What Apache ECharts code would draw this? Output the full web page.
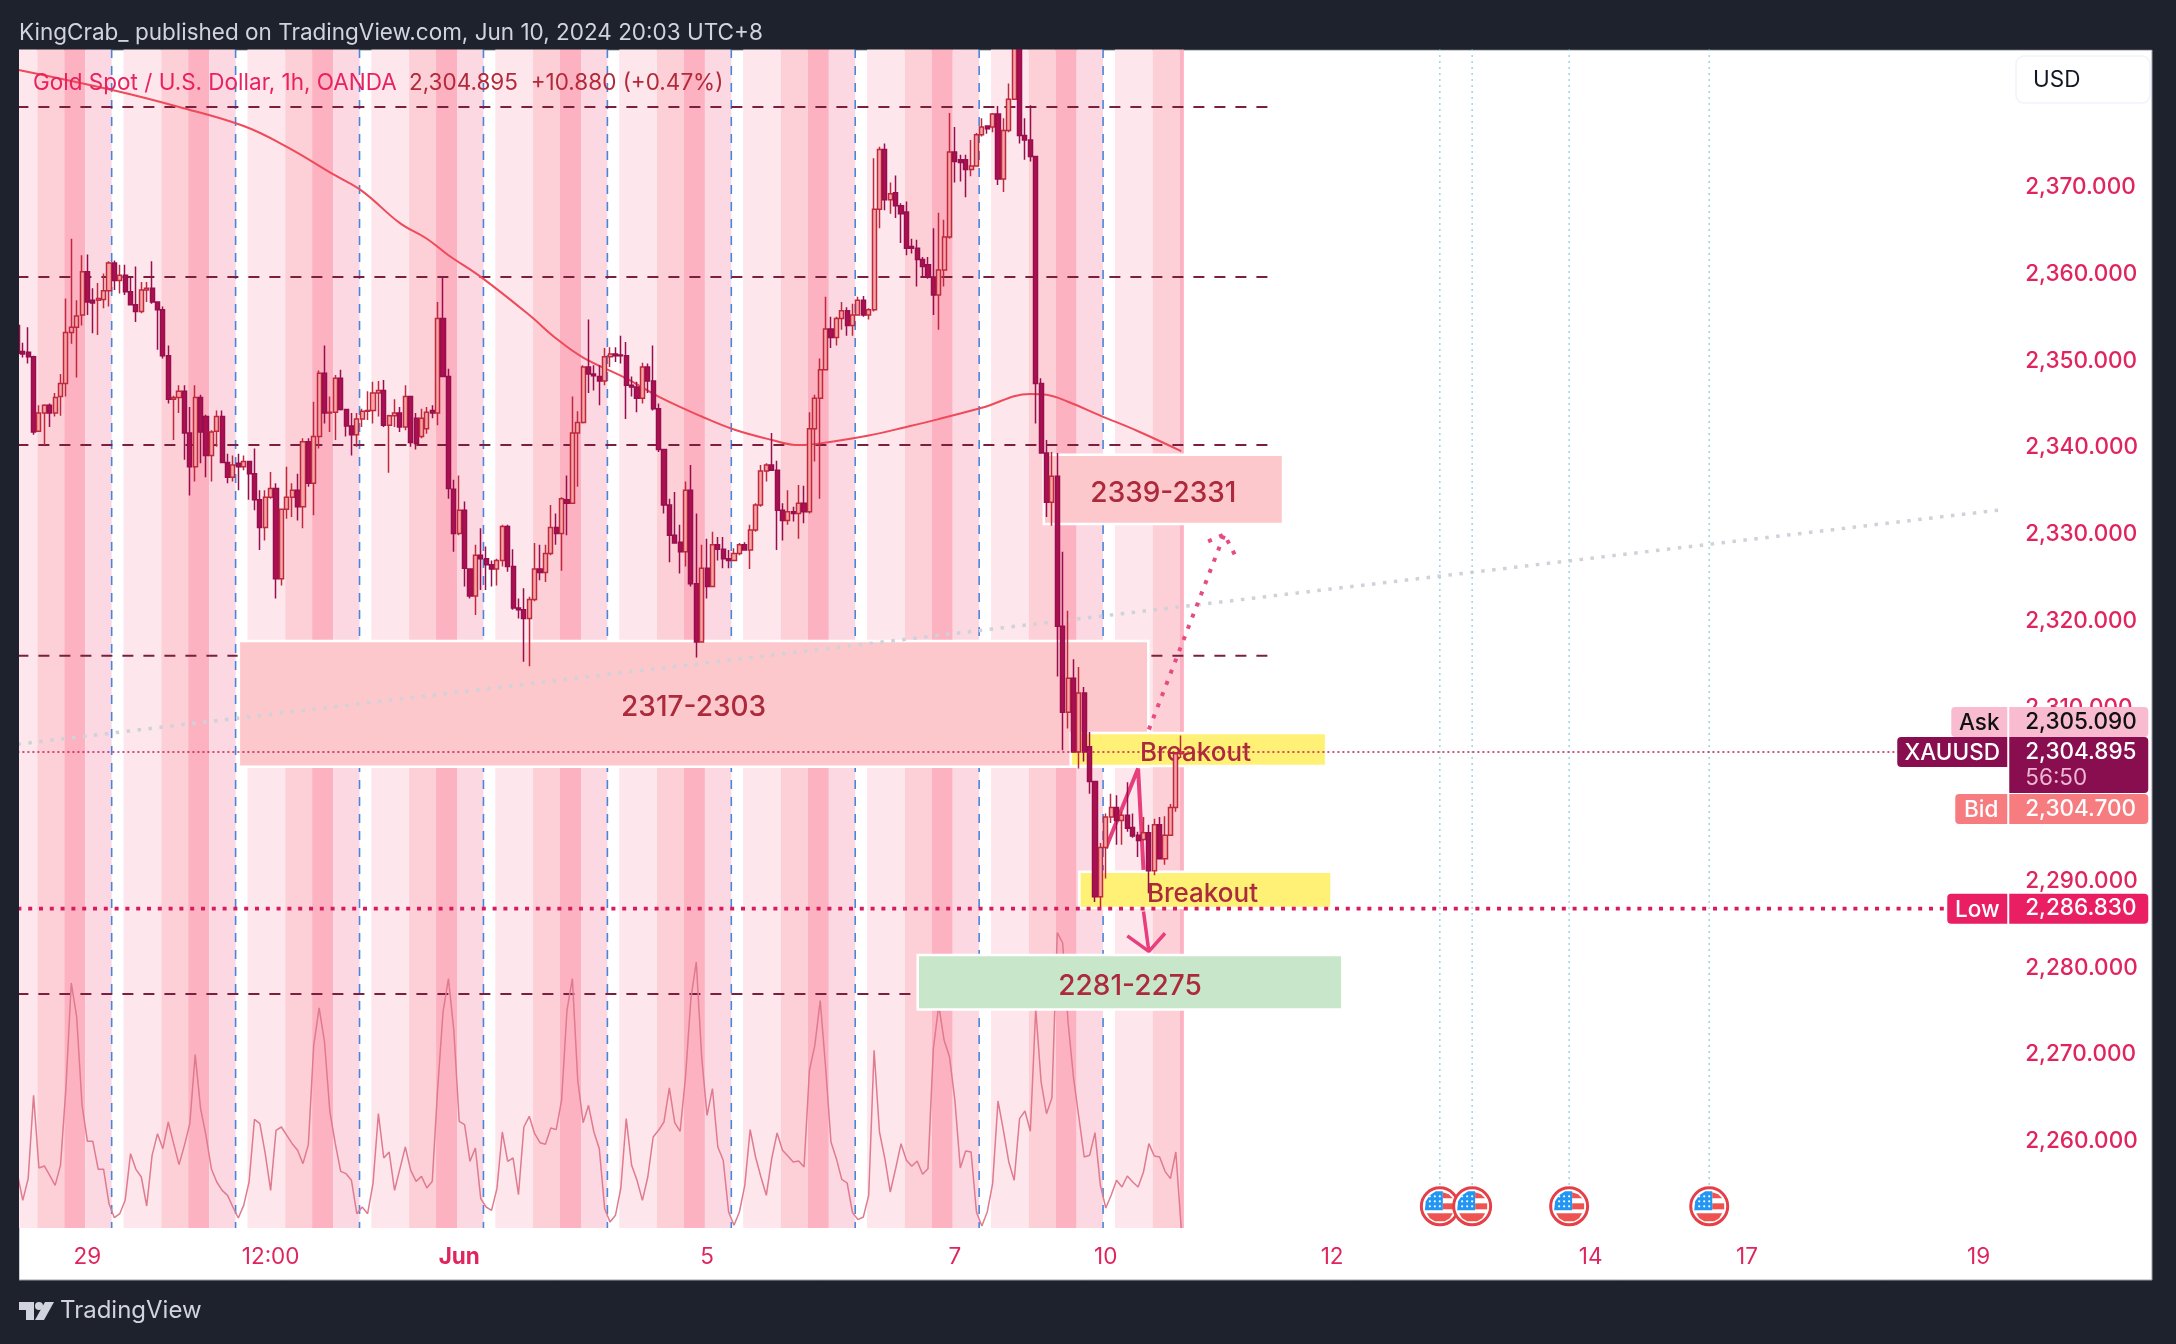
<!DOCTYPE html>
<html>
<head>
<meta charset="utf-8">
<style>html,body{margin:0;padding:0;background:#1e222d}#c{width:2176px;height:1344px}</style>
<script src="https://cdn.jsdelivr.net/npm/echarts@6/dist/echarts.min.js"></script>
</head>
<body>
<div id="c"></div>
<script>
const opens=[2354.1,2351.1,2351,2350.5,2341.9,2344,2344.9,2344,2345.9,2347.4,
2353.3,2353.9,2355.3,2360.3,2357,2357,2357.1,2358.1,2361.3,2359.3,
2359.9,2358,2356.5,2355.7,2358.2,2358.4,2356.8,2355.9,2350.6,2345.6,
2345.8,2346.5,2341.7,2337.8,2345.8,2343.6,2339.1,2341.9,2343.6,2338.3,
2336.6,2338.2,2337.8,2338.4,2337,2334,2330.8,2334.3,2335.3,2324.9,
2332.9,2334.3,2335.1,2333.2,2340.7,2335.9,2341.3,2348.6,2344,2344.1,
2348,2344.4,2342.5,2341.5,2343.3,2344.2,2344.3,2346.3,2346.6,2342.6,
2343.7,2344,2342.4,2345.9,2343.4,2341.3,2342.2,2344.3,2344,2354.9,
2348.2,2335.2,2330.1,2332.8,2326,2322.9,2327.6,2327.2,2326.5,2326,
2327,2330.9,2326.3,2321.5,2321.3,2320.3,2322.5,2326,2325.6,2327.8,
2330.8,2330.1,2334,2333.6,2341.7,2342.9,2349.3,2348.5,2348.2,2347.7,
2350.5,2350.8,2350.7,2350.6,2347.2,2347,2345.7,2349.3,2347.7,2344.5,
2339.8,2333.4,2329.9,2329.1,2328,2335.1,2324.3,2317.6,2326.1,2324,
2328.8,2328.3,2327.2,2327,2327.8,2328.8,2328.2,2330.5,2333.4,2337.3,
2338,2337.4,2332.8,2331.6,2332.6,2332.4,2333.6,2332.6,2342.2,2345.7,
2349,2353.7,2352.7,2354.9,2355.8,2354.1,2355.3,2357,2355.3,2355.9,
2367.5,2374.4,2368.6,2369.4,2367.9,2367.2,2363.2,2363,2361.7,2361.1,
2359.7,2357.6,2360.5,2364.3,2374.1,2373.2,2373.2,2372.1,2372.5,2376.1,
2377.1,2377,2378.5,2371,2376.6,2380.2,2387,2376,2375.5,2373.6,
2347.4,2339.4,2333.7,2336.7,2319.4,2309.5,2313.4,2304.9,2311.7,2305.5,
2301.5,2288.2,2293.9,2297.4,2298.5,2297,2297.6,2296.2,2295.3,2294.8,
2295.6,2291.2,2296.5,2292.6,2295.3,2298.5,2304.7];
const closes=[2350.9,2350.8,2350.5,2341.8,2344,2344.9,2344,2345.8,2347.4,2353.3,
2353.9,2355.2,2360.3,2356.8,2356.7,2357.2,2358.1,2361.3,2359.3,2359.9,
2358,2356.5,2355.7,2358.2,2358.4,2356.8,2355.9,2350.6,2345.6,2345.8,
2346.5,2341.7,2337.8,2345.8,2341.8,2339.1,2341.8,2343.6,2338.3,2336.6,
2338,2337.8,2338.4,2337,2334,2330.8,2334.3,2335.3,2324.9,2332.9,
2334.3,2335.1,2333.2,2340.7,2335.9,2341.3,2348.6,2344,2344.1,2348,
2344.4,2342.5,2341.5,2343.3,2344.2,2344.3,2346.3,2346.6,2342.6,2343.7,
2344,2342.4,2345.9,2340.6,2340.5,2343.4,2344.1,2344,2354.9,2348.2,
2335.3,2330.1,2332.8,2326.1,2322.9,2327.6,2327.2,2326.5,2326,2327,
2330.9,2326.3,2321.5,2321.3,2320.3,2322.5,2326,2325.6,2327.8,2330.8,
2330.1,2334.1,2333.6,2341.7,2342.9,2349.3,2348.5,2348.3,2347.7,2350.5,
2350.8,2350.6,2350.6,2347.2,2347,2345.7,2349.3,2347.7,2344.5,2339.8,
2333.4,2329.9,2329,2328,2335.1,2324.3,2317.6,2326.1,2324,2328.8,
2328.3,2327.2,2327,2327.8,2328.8,2328.2,2330.5,2333.4,2337.3,2338,
2337.4,2332.8,2331.6,2332.6,2332.4,2333.6,2332.6,2342.2,2345.7,2349,
2353.7,2352.7,2354.9,2355.8,2354.1,2355.3,2357,2355.3,2355.9,2367.5,
2374.4,2368.6,2369.3,2367.9,2367,2363,2363,2361.7,2360.9,2359.7,
2357.6,2360.5,2364.3,2374.1,2373,2372.9,2372.1,2372.5,2376.1,2377,
2376.8,2378.5,2371,2376.6,2380.2,2387,2376,2375.5,2373.6,2347.4,
2339.4,2333.7,2336.7,2319.4,2309.5,2313.4,2304.9,2311.7,2304.9,2301.5,
2288.2,2293.9,2297.4,2298.5,2297,2297.6,2296.1,2295.2,2294.7,2295.6,
2291.2,2296.5,2292.6,2295.3,2298.5,2304.7,2304.895];
const highs=[2354.5,2352.1,2353.9,2350.6,2344.9,2345,2345.1,2346.3,2348.5,2357.2,
2364.1,2357,2362.2,2362.3,2358.4,2359,2360.1,2361.5,2361.6,2361.1,
2361.1,2359.7,2360.9,2359.1,2359.1,2361.5,2356.8,2356.3,2351.8,2346,
2347.2,2347.2,2344.7,2347.2,2346.1,2343.8,2342,2344.3,2344.3,2339.3,
2339.1,2339.3,2339.1,2338.4,2339.9,2335.1,2335.1,2337.2,2335.9,2333,
2337.8,2335.9,2337,2341.1,2341.1,2345.3,2348.9,2351.8,2345.9,2348.4,
2349,2344.5,2344,2344,2344.5,2346.5,2347.6,2347.7,2347.8,2343.8,
2345.6,2344.7,2347.2,2345.9,2344,2344.5,2344.7,2344.9,2356.8,2359.7,
2349.1,2336.3,2336.8,2333.8,2326.1,2328.8,2330.7,2328.6,2327,2327.2,
2331.1,2331.1,2328.3,2322.6,2323.8,2322.8,2329,2328.8,2328.8,2333.4,
2332.4,2334.3,2336.8,2345.9,2344.2,2349.5,2354.8,2349.5,2349.5,2351.5,
2351.6,2351.6,2352.9,2352.2,2348.2,2347.6,2349.8,2349.7,2351.8,2345.1,
2339.8,2334.1,2334.9,2331.1,2336.1,2338,2332.4,2328.8,2329.5,2330.3,
2329.7,2329.7,2328.2,2328.4,2329,2329.1,2331.1,2333.6,2338,2338.2,
2341.7,2338.5,2333.6,2335.1,2333.2,2335.7,2335.6,2344.1,2346.1,2350.3,
2357.4,2355.1,2355.1,2356.8,2356.2,2356.6,2357.4,2357.5,2356.1,2373.4,
2374.7,2375.1,2370.6,2371.4,2368.2,2368.4,2364.1,2364,2362,2362,
2365.3,2367.1,2366.3,2378.6,2377,2373.8,2373.8,2375.5,2376.3,2378,
2377.2,2378.6,2379.4,2378,2382,2387.8,2387.8,2378,2379.5,2373.6,
2348,2340.9,2339.5,2339.4,2328,2321.2,2315.6,2314.7,2312.4,2307.2,
2301.5,2294.4,2297.8,2300.1,2299.9,2298,2301.4,2297.8,2295.7,2297.4,
2296.5,2297.2,2297.4,2297.5,2298.9,2304.9,2306.8];
const lows=[2350.5,2350.4,2349.7,2341.5,2341.8,2340.3,2342.4,2343.6,2343.7,2345.9,
2352,2348.1,2354.1,2355.3,2353.2,2353,2356.1,2356.3,2358.2,2357.8,
2357.6,2356.5,2354.5,2355.5,2356.8,2356.6,2351.3,2350.3,2345.1,2340.9,
2344,2338.6,2334.5,2336.1,2338.2,2336.6,2336.1,2340.1,2338.2,2335.9,
2336.1,2335.1,2337.4,2334,2332.8,2328.2,2329.3,2334.1,2322.6,2324.1,
2331.8,2332,2331.6,2330.7,2335.5,2332.2,2339.9,2342.8,2341.8,2340.9,
2344.3,2341.3,2339.1,2340.1,2342.4,2343.2,2342.8,2343.6,2342.4,2337.1,
2342.4,2341.8,2342,2340.1,2339.8,2341.1,2341.6,2343.4,2342.6,2348.2,
2334.1,2328,2329.9,2324,2322.6,2320.7,2323.6,2323.6,2324,2324.1,
2326.3,2325.7,2321.3,2320.3,2315.3,2314.8,2322.3,2324.7,2324.5,2327.6,
2328.8,2325.8,2329.9,2333.5,2335.5,2342.8,2346.3,2346.6,2344.9,2347.2,
2349.3,2349.9,2349.7,2343.3,2345.9,2344.1,2345.1,2346.3,2344.3,2339.5,
2332.4,2326.8,2329,2325.5,2326.3,2324,2315.8,2317.6,2322.6,2324,
2327,2326.1,2326.1,2326.9,2327.6,2328.2,2326,2330.3,2333.2,2336.1,
2337.4,2328.2,2329.3,2331.1,2331.5,2329.5,2331.3,2332.4,2338.4,2334.1,
2349,2351.5,2351.8,2353.6,2352.9,2352.9,2355.3,2355.1,2354.8,2355.7,
2365.3,2367.4,2367,2366.5,2363.6,2362.2,2362.4,2358.6,2359.7,2359.5,
2355.3,2353.6,2358.6,2364.1,2370.6,2370.7,2368.9,2371.3,2372.5,2375.9,
2376.2,2376.4,2370.3,2369.5,2376.4,2380.1,2375.1,2373.2,2373,2342.8,
2339.3,2332,2331,2313.6,2305.1,2307.6,2304.9,2303,2303.8,2300.1,
2287.6,2286.83,2290.3,2296.7,2294.2,2294.2,2295.7,2295,2292.8,2294.7,
2288.6,2290.7,2292.5,2291.9,2295.3,2298,2304.2];
const activity=[163,83,148,398,180,186,158,128,188,418,735,633,368,260,260,176,176,73,31,43,83,223,176,153,66,218,283,238,318,253,190,248,313,520,358,278,178,138,113,98,63,30,68,138,326,313,223,113,293,303,278,253,233,193,250,548,660,558,348,253,170,163,143,43,63,43,133,343,210,228,113,178,243,173,140,155,120,140,418,648,748,593,320,310,200,240,88,63,53,118,288,200,210,100,303,335,283,256,251,300,295,383,653,748,443,316,368,288,238,
58,18,38,120,328,188,143,83,153,273,293,318,420,316,290,453,688,798,513,338,418,243,203,48,8,48,128,295,213,153,98,208,285,233,216,198,201,183,473,548,682,483,258,208,146,135,46,25,33,98,533,288,208,108,178,253,203,185,201,161,178,538,668,563,513,383,180,231,228,48,6,48,133,381,293,198,143,328,351,290,658,438,343,390,886,855,618,453,333,213,218,286,128,60,98,143,123,156,138,123,168,253,216,213,170,148,228,0];
const maBars=[0,18,30,42,50,59,64,71,76,80,86,95,100,105,113,119,127,133,140,145,149,158,165,171,179,188,191,195,201,208,216];
const maValues=[2383.6,2381.2,2379.3,2377.1,2374.7,2371.4,2369.6,2365.9,2364.1,2362.2,2359.7,2355.3,2352.6,2350.4,2348,2345.9,2343.6,2342.1,2340.9,2340.3,2340.5,2341.4,2342.4,2343.3,2344.6,2346.2,2346.1,2345.3,2343.7,2341.9,2339.6];
const sessionStarts=[-5,18,41,64,87,110,133,156,179,202];
const sessionEdges=[0,2.2,9.2,14.2,18.1,23];
const sessionFills=[null,'#fde6ec','#fdd0d7','#fdb2c2','#fbd8e2'];
const lastBarEdge=217;
const levelPrices=[2379.3,2359.7,2340.3,2316,2277];
const levelEndBar=232;
const lastPrice=2304.895, askPrice=2305.09, bidPrice=2304.7, lowPrice=2286.83;
const trendBars=[0,369], trendPrices=[2305.8,2332.9];
const upPathBars=[210,224], upPathPrices=[2307.5,2330];
const upHeadBars=[221,224,226], upHeadPrices=[2329.2,2330,2327.6];
const swingBars=[202,208,209], swingPrices=[2293.8,2303,2291.3];
const downBars=[209,210], downPrices=[2286.5,2281.9];
const downHeadBars=[206,210,213], downHeadPrices=[2283.7,2281.9,2284];
const boxStartBars=[41.6,191,167.6,196,197.6];
const boxEndBars=[210.4,235.4,246.4,243.4,244.4];
const boxTops=[2317.7,2339.2,2281.5,2307.1,2291.1];
const boxBottoms=[2303.2,2331.2,2275.2,2303.3,2286.9];
const boxLabels=['2317-2303','2339-2331','2281-2275','Breakout','Breakout'];
const boxFills=['#fdc8cc','#fdc8cc','#c8e6c9','#fff176','#fff176'];
const eventBars=[264,270,288,314];
const eventPrice=2252.5;
const axisTicks={13:'29',47:'12:00',82:'Jun',128:'5',174:'7',202:'10',244:'12',292:'14',321:'17',364:'19'};
const hiddenPriceTicks=[2250,2300,2380];
const barCount=370;
const categories=Array.from({length:barCount},(_,i)=>String(i));

const FONT='Inter, "Noto Sans", sans-serif';
const bandW=5.388, gridLeft=14.7;
const chart=echarts.init(document.getElementById('c'),null,{renderer:'canvas'});

const candleData=opens.map((o,i)=>[o,closes[i],lows[i],highs[i]]);
const toPairs=(xs,ys)=>xs.map((x,i)=>[x,ys[i]]);
const lineSeries=(xs,ys,style,z)=>({type:'line',data:toPairs(xs,ys),showSymbol:false,silent:true,z,lineStyle:style,animation:false});

function edgeX(api,k){
  const base=Math.floor(k);
  const w=api.size([1,0])[0];
  return api.coord([base,2300])[0]-w/2+(k-base)*w;
}
const bandRows=[];
sessionStarts.forEach(s=>{
  for(let j=1;j<sessionEdges.length-1;j++){
    bandRows.push([s+sessionEdges[j],Math.min(s+sessionEdges[j+1],lastBarEdge),j]);
  }
});
const bandSeries={type:'custom',z:1,silent:true,clip:true,data:bandRows.filter(r=>r[0]<lastBarEdge).map(r=>[Math.floor(r[0]),r[1],r[2],r[0]]),
  renderItem(p,api){
    const start=api.value(3), end=api.value(1), kind=api.value(2);
    const a=edgeX(api,start), b=edgeX(api,end);
    const top=p.coordSys.y, h=p.coordSys.height;
    return {type:'rect',shape:{x:a,y:top,width:b-a,height:h},style:{fill:sessionFills[kind]}};
  }};
const sessionLines={type:'custom',z:2,silent:true,clip:true,data:sessionStarts.map(s=>[s]),
  renderItem(p,api){
    const x=edgeX(api,api.value(0));
    return {type:'line',shape:{x1:x,y1:p.coordSys.y,x2:x,y2:p.coordSys.y+p.coordSys.height},style:{stroke:'#4a86d8',lineWidth:1.6,lineDash:[9,8]}};
  }};
const boxSeries={type:'custom',z:6,silent:true,clip:false,data:boxStartBars.map((s,i)=>[Math.floor(s),Math.floor(boxEndBars[i]),boxTops[i],boxBottoms[i]]),
  renderItem(p,api){
    const i=p.dataIndex;
    const a=edgeX(api,boxStartBars[i]), b=edgeX(api,boxEndBars[i]);
    const y1=api.coord([api.value(0),api.value(2)])[1], y2=api.coord([api.value(0),api.value(3)])[1];
    return {type:'group',children:[
      {type:'rect',shape:{x:a,y:y1,width:b-a,height:y2-y1},style:{fill:boxFills[i],stroke:'#ffffff',lineWidth:2.5}},
      {type:'text',z2:200,style:{text:boxLabels[i],x:(a+b)/2-(i>2?3:0),y:(y1+y2)/2+4,fill:'#ab2a3c',font:'500 '+(i>2?26:28)+'px '+FONT,textAlign:'center',textVerticalAlign:'middle',verticalAlign:'middle'}}
    ]};
  }};
const flagSeries={type:'custom',z:8,silent:true,clip:false,data:eventBars.map(k=>[k,eventPrice]),
  renderItem(p,api){
    const c=api.coord([api.value(0),api.value(1)]);
    const x=c[0],y=c[1];
    const kids=[
      {type:'line',shape:{x1:x,y1:p.coordSys.y,x2:x,y2:y-20},style:{stroke:'#9ed6e4',lineWidth:1.5,lineDash:[2,4]}},
      {type:'circle',shape:{cx:x,cy:y,r:18.5},style:{fill:'#fff',stroke:'#e53f47',lineWidth:3}},
      {type:'polygon',shape:{points:[[x+3,y-14],[x+9,y-12],[x+13,y-8],[x+3,y-8]]},style:{fill:'#ef5350'}},
      {type:'rect',shape:{x:x+3,y:y-3,width:12,height:6},style:{fill:'#ef5350'}},
      {type:'polygon',shape:{points:[[x-13,y+7],[x+13,y+7],[x+10,y+12],[x+5,y+15],[x-5,y+15],[x-10,y+12]]},style:{fill:'#ef5350'}},
      {type:'polygon',shape:{points:[[x+3,y-15],[x+3,y+4],[x-15,y+4],[x-14,y-5],[x-10,y-11],[x-4,y-15]]},style:{fill:'#2196f3'}}
    ];
    [-10,-5,0].forEach(dx=>[-10,-5,0].forEach(dy=>kids.push({type:'circle',shape:{cx:x+dx,cy:y+dy,r:1.1},style:{fill:'#fff'}})));
    return {type:'group',children:kids};
  }};
const tagRows=[
  ['Ask','2,305.090',null,'#f8bbd0','#111111',-45,30,lastPrice],
  ['XAUUSD','2,304.895','56:50','#880e4f','#ffffff',-15,30,lastPrice],
  ['Bid','2,304.700',null,'#f77c80','#ffffff',42,30,lastPrice],
  ['Low','2,286.830',null,'#e91e63','#ffffff',-15,30,lowPrice]
];
const tagW={Ask:56,XAUUSD:110,Bid:52,Low:60};
const tagSeries={type:'custom',z:30,silent:true,clip:false,data:tagRows.map(r=>[barCount-1,r[7]]),
  renderItem(p,api){
    const r=tagRows[p.dataIndex];
    const yc=api.coord([api.value(0),api.value(1)])[1];
    const right=p.coordSys.x+p.coordSys.width;
    const top=yc+r[5], h=r[6];
    const kids=[
      {type:'rect',shape:{x:right-tagW[r[0]]-1,y:top,width:tagW[r[0]],height:h,r:[4,0,0,4]},style:{fill:r[3]}},
      {type:'text',style:{text:r[0],x:right-1-tagW[r[0]]/2,y:top+h/2+1.5,fill:r[4],font:'500 22.5px '+FONT,textAlign:'center',textVerticalAlign:'middle',verticalAlign:'middle'}}
    ];
    const boxH=r[2]?56:h;
    kids.push({type:'rect',shape:{x:right+1,y:top,width:139,height:boxH,r:[0,4,4,0]},style:{fill:r[3]}});
    kids.push({type:'text',style:{text:r[1],x:right+17,y:top+15,fill:r[4],font:'500 22.5px '+FONT,textAlign:'left',textVerticalAlign:'middle',verticalAlign:'middle'}});
    if(r[2])kids.push({type:'text',style:{text:r[2],x:right+17,y:top+41,fill:'#eeb6d2',font:'400 22.5px '+FONT,textAlign:'left',textVerticalAlign:'middle',verticalAlign:'middle'}});
    return {type:'group',children:kids};
  }};

const series=[
  bandSeries,sessionLines,
  ...levelPrices.map(v=>lineSeries([0,levelEndBar],[v,v],{color:'#7a1f3d',width:2,type:[11,10]},3)),
  {type:'line',yAxisIndex:1,data:activity,showSymbol:false,silent:true,z:4,lineStyle:{color:'#e07a8e',width:1.5}},
  {type:'line',data:toPairs(maBars,maValues),showSymbol:false,smooth:0.4,silent:true,z:5,lineStyle:{color:'#ef4a5a',width:2}},
  boxSeries,
  lineSeries(swingBars,swingPrices,{color:'#e93e7d',width:4},7),
  lineSeries(trendBars,trendPrices,{color:'#cfd2d9',width:3.5,type:[3.5,7.5]},7),
  {type:'candlestick',data:candleData,z:9,barWidth:4.6,silent:true,
    itemStyle:{color:'#f6a6a6',color0:'#ab1150',borderColor:'#c0283e',borderColor0:'#980e4d',borderWidth:1.5}},
  lineSeries(upPathBars,upPathPrices,{color:'#e64b83',width:4,type:[4,8]},10),
  lineSeries(upHeadBars,upHeadPrices,{color:'#e64b83',width:4,type:[4,8]},10),
  lineSeries(downBars,downPrices,{color:'#e93e7d',width:3.5},10),
  lineSeries(downHeadBars,downHeadPrices,{color:'#e93e7d',width:3.5},10),
  lineSeries([0,barCount-1],[lastPrice,lastPrice],{color:'#c2185b',width:1.6,type:[2,3]},11),
  lineSeries([0,barCount-1],[lowPrice,lowPrice],{color:'#d81b60',width:3.7,type:[4,6.8]},11),
  flagSeries,tagSeries
];

const graphic=[
  {type:'rect',z:-10,shape:{x:19,y:50,width:2133,height:1230},style:{fill:'#ffffff',stroke:'#9a9ea8',lineWidth:1}},
  {type:'rect',z:100,shape:{x:0,y:0,width:19,height:1344},style:{fill:'#1e222d'}},
  {type:'rect',z:100,shape:{x:0,y:0,width:2176,height:49.5},style:{fill:'#1e222d'}},
  {type:'text',z:101,x:19,y:33,style:{text:'KingCrab_ published on TradingView.com, Jun 10, 2024 20:03 UTC+8',fill:'#d1d4dc',font:'400 22.5px '+FONT,textAlign:'left',textVerticalAlign:'middle',verticalAlign:'middle'}},
  {type:'text',z:50,x:33,y:83,style:{text:'Gold Spot / U.S. Dollar, 1h, OANDA',fill:'#e8215f',font:'400 22.5px '+FONT,textAlign:'left',textVerticalAlign:'middle',verticalAlign:'middle'}},
  {type:'text',z:50,x:409,y:83,style:{text:'2,304.895  +10.880 (+0.47%)',fill:'#b22a3a',font:'400 22.5px '+FONT,textAlign:'left',textVerticalAlign:'middle',verticalAlign:'middle'}},
  {type:'rect',z:40,shape:{x:2016,y:56,width:134,height:47,r:8},style:{fill:'#ffffff',stroke:'#f0f3fa',lineWidth:1.5}},
  {type:'text',z:41,x:2033,y:80,style:{text:'USD',fill:'#131722',font:'400 22.5px '+FONT,textAlign:'left',textVerticalAlign:'middle',verticalAlign:'middle'}},
  {type:'polygon',z:50,shape:{points:[[18,1302],[34,1302],[34,1320],[26,1320],[26,1310],[18,1310]]},style:{fill:'#d1d4dc'}},
  {type:'circle',z:50,shape:{cx:39,cy:1306,r:4},style:{fill:'#d1d4dc'}},
  {type:'polygon',z:50,shape:{points:[[45,1302],[54,1302],[44,1320],[35,1320]]},style:{fill:'#d1d4dc'}},
  {type:'text',z:50,x:60,y:1311,style:{text:'TradingView',fill:'#d1d4dc',font:'400 24px '+FONT,textAlign:'left',textVerticalAlign:'middle',verticalAlign:'middle'}}
];

chart.setOption({
  animation:false,
  backgroundColor:'#1e222d',
  tooltip:{show:false},
  graphic,
  grid:{left:gridLeft,top:48.9,width:bandW*barCount,height:1179.1,containLabel:false},
  xAxis:{type:'category',data:categories,boundaryGap:true,
    axisLine:{show:false},axisTick:{show:false},splitLine:{show:false},
    axisLabel:{
      interval:(i)=>axisTicks[i]!==undefined,
      formatter:(v,i)=>{const t=axisTicks[i];return t==='Jun'?'{b|Jun}':(t||'');},
      color:'#e0245e',fontFamily:FONT,fontSize:22.5,margin:18,hideOverlap:false,
      rich:{b:{fontWeight:700,color:'#e0245e',fontFamily:FONT,fontSize:22.5}}
    }},
  yAxis:[
    {type:'value',position:'right',min:2250,max:2386,interval:10,
      axisLine:{show:false},axisTick:{show:false},splitLine:{show:false},
      axisLabel:{color:'#e0245e',fontFamily:FONT,fontSize:22.5,fontWeight:500,margin:17,showMaxLabel:false,showMinLabel:false,
        formatter:v=>(v%10!==0||hiddenPriceTicks.includes(v))?'':v.toLocaleString('en-US',{minimumFractionDigits:3,maximumFractionDigits:3})}},
    {type:'value',show:false,min:0,max:3537}
  ],
  series
});
</script>
</body>
</html>
